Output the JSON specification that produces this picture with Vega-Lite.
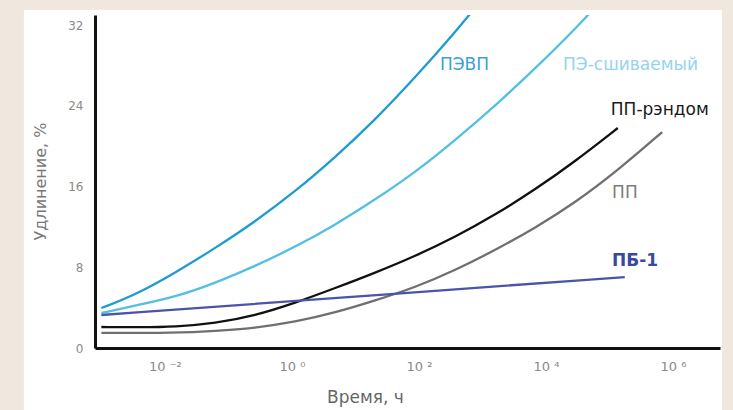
{
  "$schema": "https://vega.github.io/schema/vega-lite/v6.json",
  "width": 625,
  "height": 333,
  "autosize": "none",
  "padding": {"left": 95, "top": 15, "right": 13, "bottom": 62},
  "background": "#f0e8de",
  "config": {
    "view": {"stroke": null},
    "font": "DejaVu Sans"
  },
  "datasets": {
    "panel": [{"id": 1}],
    "curves": [
      {"series": "ПЭВП", "t": 0.001, "v": 3.96},
      {"series": "ПЭВП", "t": 0.0034, "v": 5.25},
      {"series": "ПЭВП", "t": 0.0145, "v": 7.45},
      {"series": "ПЭВП", "t": 0.062, "v": 9.9},
      {"series": "ПЭВП", "t": 0.26, "v": 12.5},
      {"series": "ПЭВП", "t": 1.12, "v": 15.5},
      {"series": "ПЭВП", "t": 4.8, "v": 18.9},
      {"series": "ПЭВП", "t": 20.4, "v": 22.6},
      {"series": "ПЭВП", "t": 87, "v": 26.8},
      {"series": "ПЭВП", "t": 372, "v": 31.3},
      {"series": "ПЭВП", "t": 1000, "v": 34.6},
      {"series": "ПЭ-сшиваемый", "t": 0.001, "v": 3.47},
      {"series": "ПЭ-сшиваемый", "t": 0.0034, "v": 4.2},
      {"series": "ПЭ-сшиваемый", "t": 0.0145, "v": 5.05},
      {"series": "ПЭ-сшиваемый", "t": 0.062, "v": 6.44},
      {"series": "ПЭ-сшиваемый", "t": 0.26, "v": 8.1},
      {"series": "ПЭ-сшиваемый", "t": 1.12, "v": 10.0},
      {"series": "ПЭ-сшиваемый", "t": 4.8, "v": 12.2},
      {"series": "ПЭ-сшиваемый", "t": 20.4, "v": 14.7},
      {"series": "ПЭ-сшиваемый", "t": 87, "v": 17.4},
      {"series": "ПЭ-сшиваемый", "t": 372, "v": 20.6},
      {"series": "ПЭ-сшиваемый", "t": 1585, "v": 24.0},
      {"series": "ПЭ-сшиваемый", "t": 6760, "v": 27.7},
      {"series": "ПЭ-сшиваемый", "t": 28840, "v": 31.6},
      {"series": "ПЭ-сшиваемый", "t": 90000, "v": 35.0},
      {"series": "ПП-рэндом", "t": 0.001, "v": 2.08},
      {"series": "ПП-рэндом", "t": 0.004, "v": 2.05},
      {"series": "ПП-рэндом", "t": 0.0145, "v": 2.1},
      {"series": "ПП-рэндом", "t": 0.062, "v": 2.45},
      {"series": "ПП-рэндом", "t": 0.26, "v": 3.2},
      {"series": "ПП-рэндом", "t": 1.12, "v": 4.46},
      {"series": "ПП-рэндом", "t": 4.8, "v": 5.94},
      {"series": "ПП-рэндом", "t": 20.4, "v": 7.45},
      {"series": "ПП-рэндом", "t": 87, "v": 9.1},
      {"series": "ПП-рэндом", "t": 372, "v": 11.0},
      {"series": "ПП-рэндом", "t": 1585, "v": 13.2},
      {"series": "ПП-рэндом", "t": 6760, "v": 15.7},
      {"series": "ПП-рэндом", "t": 28840, "v": 18.5},
      {"series": "ПП-рэндом", "t": 135000, "v": 21.8},
      {"series": "ПП", "t": 0.001, "v": 1.49},
      {"series": "ПП", "t": 0.0145, "v": 1.49},
      {"series": "ПП", "t": 0.062, "v": 1.68},
      {"series": "ПП", "t": 0.26, "v": 1.98},
      {"series": "ПП", "t": 1.12, "v": 2.57},
      {"series": "ПП", "t": 4.8, "v": 3.5},
      {"series": "ПП", "t": 20.4, "v": 4.7},
      {"series": "ПП", "t": 87, "v": 6.0},
      {"series": "ПП", "t": 372, "v": 7.7},
      {"series": "ПП", "t": 1585, "v": 9.7},
      {"series": "ПП", "t": 6760, "v": 11.9},
      {"series": "ПП", "t": 28840, "v": 14.4},
      {"series": "ПП", "t": 135000, "v": 17.6},
      {"series": "ПП", "t": 676000, "v": 21.4},
      {"series": "ПБ-1", "t": 0.001, "v": 3.27},
      {"series": "ПБ-1", "t": 4.8, "v": 4.95},
      {"series": "ПБ-1", "t": 174000, "v": 7.03}
    ],
    "labels": [
      {"label": "ПЭВП", "t": 214, "v": 28.0},
      {"label": "ПЭ-сшиваемый", "t": 18600, "v": 28.0},
      {"label": "ПП-рэндом", "t": 105000, "v": 23.6},
      {"label": "ПП", "t": 110000, "v": 15.4},
      {"label": "ПБ-1", "t": 110000, "v": 8.6}
    ]
  },
  "layer": [
    {
      "data": {"name": "panel"},
      "mark": {"type": "rect", "fill": "#ffffff", "opacity": 1, "clip": false},
      "encoding": {
        "x": {"datum": 0.0000603, "type": "quantitative", "scale": {"type": "log", "domain": [0.000794, 5495409], "nice": false}},
        "x2": {"datum": 5900000},
        "y": {"datum": -7, "type": "quantitative", "scale": {"domain": [0, 33], "nice": false}},
        "y2": {"datum": 33.5}
      }
    },
    {
      "data": {"name": "curves"},
      "mark": {"type": "line", "interpolate": "basis", "strokeWidth": 2.3, "clip": true},
      "encoding": {
        "x": {
          "field": "t",
          "type": "quantitative",
          "scale": {"type": "log", "domain": [0.000794, 5495409], "nice": false},
          "axis": {
            "zindex": 1,
            "values": [0.01, 1, 100, 10000, 1000000],
            "labelExpr": "datum.value < 0.1 ? '10 ⁻²' : datum.value < 10 ? '10 ⁰' : datum.value < 1000 ? '10 ²' : datum.value < 100000 ? '10 ⁴' : '10 ⁶'",
            "grid": false,
            "ticks": false,
            "domainColor": "#111111",
            "domainWidth": 3,
            "labelColor": "#8a8a8a",
            "labelFontSize": 13,
            "labelPadding": 12,
            "title": "Время, ч",
            "titleColor": "#666666",
            "titleFontSize": 17,
            "titleFontWeight": "normal",
            "titleX": 270,
            "titleY": 49,
            "titleAlign": "center",
            "titleBaseline": "middle"
          }
        },
        "y": {
          "field": "v",
          "type": "quantitative",
          "scale": {"domain": [0, 33], "nice": false},
          "axis": {
            "zindex": 1,
            "values": [0, 8, 16, 24, 32],
            "grid": false,
            "ticks": false,
            "domainColor": "#111111",
            "domainWidth": 3,
            "labelColor": "#8a8a8a",
            "labelFontSize": 12,
            "labelPadding": 12,
            "title": "Удлинение, %",
            "titleColor": "#777777",
            "titleFontSize": 16,
            "titleFontWeight": "normal",
            "titleX": -55,
            "titleY": 166,
            "titleAngle": -90,
            "titleAlign": "center",
            "titleBaseline": "middle"
          }
        },
        "color": {
          "field": "series",
          "type": "nominal",
          "scale": {
            "domain": ["ПЭВП", "ПЭ-сшиваемый", "ПП-рэндом", "ПП", "ПБ-1"],
            "range": ["#1e9bd2", "#52bfe3", "#111111", "#6f6f6f", "#4a54a8"]
          },
          "legend": null
        }
      }
    },
    {
      "data": {"name": "labels"},
      "transform": [{"filter": "datum.label != 'ПБ-1'"}],
      "mark": {"type": "text", "align": "left", "baseline": "middle", "fontSize": 17},
      "encoding": {
        "x": {"field": "t", "type": "quantitative"},
        "y": {"field": "v", "type": "quantitative"},
        "text": {"field": "label"},
        "color": {
          "field": "label",
          "type": "nominal",
          "scale": {
            "domain": ["ПЭВП", "ПЭ-сшиваемый", "ПП-рэндом", "ПП"],
            "range": ["#3d9fd2", "#96d3ec", "#1a1a1a", "#7d7d7d"]
          },
          "legend": null
        }
      }
    },
    {
      "data": {"name": "labels"},
      "transform": [{"filter": "datum.label == 'ПБ-1'"}],
      "mark": {"type": "text", "align": "left", "baseline": "middle", "fontSize": 17, "fontWeight": "bold", "color": "#3a48a0"},
      "encoding": {
        "x": {"field": "t", "type": "quantitative"},
        "y": {"field": "v", "type": "quantitative"},
        "text": {"field": "label"}
      }
    }
  ],
  "resolve": {"scale": {"color": "independent"}}
}
